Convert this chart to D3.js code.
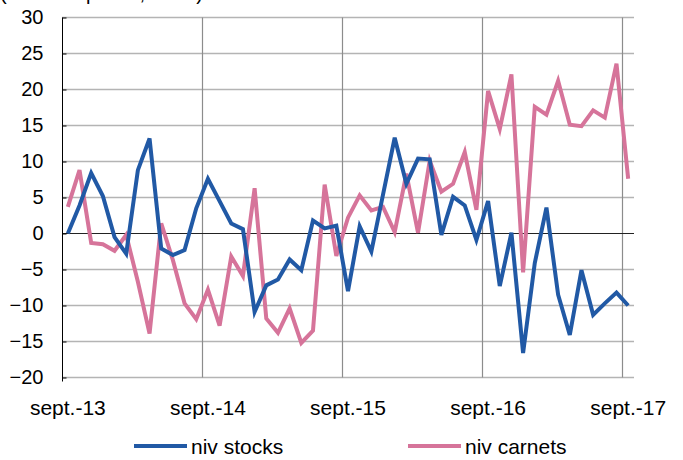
<!DOCTYPE html>
<html lang="fr">
<head>
<meta charset="UTF-8">
<title>niv stocks / niv carnets</title>
<script src="https://d3js.org/d3.v7.min.js"></script>
<style>
  body { margin: 0; background: #fff; }
  text { font-family: "Liberation Sans", Arial, sans-serif; fill: #000; }
</style>
</head>
<body>
<script>
    // months from sept.-13 to sept.-17
    var months = d3.range(49)
    var yearLabels = ['sept.-13', 'sept.-14', 'sept.-15', 'sept.-16', 'sept.-17']

    var stocks = [0, 3.9, 8.4, 5.2, -0.5, -2.8, 8.8, 13.2, -2.1, -3.0, -2.3, 3.5,
                  7.6, 4.5, 1.4, 0.6, -10.9, -7.2, -6.4, -3.6, -5.1, 1.8, 0.7, 1.1,
                  -8.0, 1.0, -2.5, 5.4, 13.3, 6.9, 10.4, 10.3, -0.2, 5.1, 3.9, -0.9,
                  4.5, -7.3, 0.1, -16.6, -4.1, 3.6, -8.5, -14.1, -5.1, -11.3, -9.7, -8.2,
                  -10.0]
    var carnets = [3.7, 8.8, -1.3, -1.5, -2.4, -0.2, -6.7, -13.9, 1.4, -3.7, -9.7, -11.9,
                   -7.8, -12.8, -3.2, -5.9, 6.3, -11.8, -13.8, -10.4, -15.2, -13.5, 6.8, -3.1,
                   2.2, 5.3, 3.2, 3.7, 0.2, 8.3, 0.1, 10.1, 5.8, 6.9, 11.3, 3.3,
                   19.8, 14.5, 22.1, -5.4, 17.6, 16.5, 21.2, 15.1, 14.9, 17.1, 16.1, 23.6,
                   7.6]
    var yTicks = [-20, -15, -10, -5, 0, 5, 10, 15, 20, 25, 30]

    var w = 683, h = 460
    var padL = 62, padR = 634, padT = 17.5, padB = 377.5

    var svg = d3.select('body').append('svg')
                .attr('width', w)
                .attr('height', h)

    var x = d3.scaleBand().domain(months).range([padL, padR])
    var y = d3.scaleLinear().domain([-20, 30]).range([padB, padT])
    var cx = function (i) { return x(i) + x.bandwidth() / 2 }

    // title, mostly cut off by the top edge like in the source
    svg.append('text')
        .attr('x', 0).attr('y', 0)
        .style('font-size', '20px')
        .text("(solde d'opinion, en %)")

    // horizontal grid
    svg.append('g').selectAll('line')
        .data(yTicks.filter(function (d) { return d !== 0 }))
        .enter().append('line')
        .attr('x1', padL).attr('x2', padR)
        .attr('y1', function (d) { return y(d) }).attr('y2', function (d) { return y(d) })
        .attr('stroke', '#b4b4b4').attr('stroke-width', 1.3)

    // vertical grid, one per year
    svg.append('g').selectAll('line')
        .data([12, 24, 36, 48])
        .enter().append('line')
        .attr('x1', function (d) { return Math.round(x(d)) + 0.5 })
        .attr('x2', function (d) { return Math.round(x(d)) + 0.5 })
        .attr('y1', padT).attr('y2', padB)
        .attr('stroke', '#8c8c8c').attr('stroke-width', 1.2)

    // zero line
    svg.append('line')
        .attr('x1', padL).attr('x2', padR)
        .attr('y1', y(0)).attr('y2', y(0))
        .attr('stroke', '#222').attr('stroke-width', 1.2)

    // y axis
    var axisy = d3.axisLeft(y).tickValues(yTicks).tickSize(4).tickPadding(15)
    var gy = svg.append('g')
        .attr('transform', 'translate(' + (padL + 0.5) + ', 0)')
        .call(axisy)
    gy.select('.domain').attr('stroke', '#000').attr('d', 'M0,' + padT + 'V' + (padB + 4))
    gy.selectAll('.tick line').attr('x2', 4).attr('stroke', '#000')
    gy.selectAll('text').style('font-size', '20px').attr('fill', '#000')
        .style('font-family', '"Liberation Sans", Arial, sans-serif')

    // x labels
    svg.append('g').selectAll('text')
        .data(yearLabels)
        .enter().append('text')
        .attr('x', function (d, i) { return cx(i * 12) })
        .attr('y', 415)
        .attr('text-anchor', 'middle')
        .style('font-size', '21px')
        .text(function (d) { return d })

    var line = d3.line()
        .x(function (d, i) { return cx(i) })
        .y(function (d) { return y(d) })

    svg.append('path').datum(carnets)
        .attr('d', line)
        .attr('fill', 'none')
        .attr('stroke', '#d6749a')
        .attr('stroke-width', 4)
        .attr('stroke-linejoin', 'miter')

    svg.append('path').datum(stocks)
        .attr('d', line)
        .attr('fill', 'none')
        .attr('stroke', '#2159a5')
        .attr('stroke-width', 4)
        .attr('stroke-linejoin', 'miter')

    // legend
    var legend = [
        { name: 'niv stocks', color: '#2159a5', x: 134 },
        { name: 'niv carnets', color: '#d6749a', x: 408 }
    ]
    var lg = svg.append('g').selectAll('g')
        .data(legend)
        .enter().append('g')
        .attr('transform', function (d) { return 'translate(' + d.x + ', 446)' })
    lg.append('line')
        .attr('x1', 0).attr('x2', 53)
        .attr('stroke', function (d) { return d.color })
        .attr('stroke-width', 4)
    lg.append('text')
        .attr('x', 57).attr('y', 8)
        .style('font-size', '21px')
        .text(function (d) { return d.name })
</script>
</body>
</html>
